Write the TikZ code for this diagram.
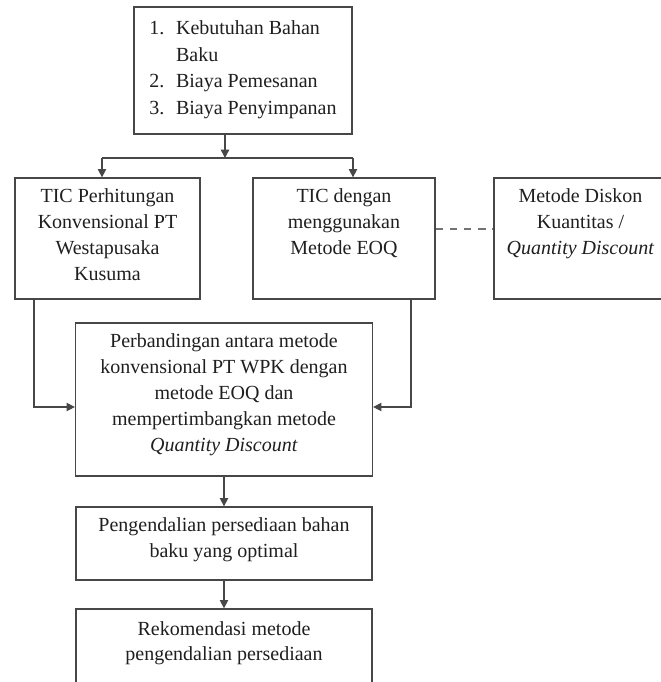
\documentclass[tikz,border=0pt]{standalone}
\usepackage{fontspec}
\setmainfont{Liberation Serif}
\usetikzlibrary{positioning,arrows.meta}

\tikzset{
	kotak/.style={draw=black!72, line width=0.75pt, inner sep=0pt},
	teks/.style={align=center, inner sep=0pt, text=black!88, font=\fontsize{12}{15.5}\selectfont},
	garis/.style={draw=black!72, line width=0.75pt},
	panah/.style={garis, -{Triangle[length=5pt,width=5pt]}},
	putus/.style={draw=black!55, line width=0.75pt, dash pattern=on 4.5pt off 4pt}
}

\begin{document}
\begin{tikzpicture}[x=0.6pt,y=-0.6pt]
		\useasboundingbox (0,0) rectangle (661,682);
		\clip (0,0) rectangle (661,682);
		% kotak
		\node[kotak,minimum width=130.8pt,minimum height=76.2pt] (input) at (243,70.5) {};
		\node[kotak,minimum width=111pt,minimum height=72.6pt] (tic) at (107.5,238.5) {};
		\node[kotak,minimum width=109.2pt,minimum height=72.6pt] (eoq) at (344,238.5) {};
		\node[kotak,minimum width=103.8pt,minimum height=72.6pt] (diskon) at (580.5,238.5) {};
		\node[kotak,minimum width=178.2pt,minimum height=91.8pt] (banding) at (224,399.5) {};
		\node[kotak,minimum width=177.6pt,minimum height=43.8pt] (kendali) at (224,543.5) {};
		\node[kotak,minimum width=177.6pt,minimum height=48.6pt] (rekom) at (224,649.5) {};
		% teks
		\node[teks,align=left,font=\fontsize{12}{16}\selectfont,below=8.3pt of input.north] (tInput) {\makebox[16pt][l]{1.}Kebutuhan Bahan\\ \hspace*{16pt}Baku\\ \makebox[16pt][l]{2.}Biaya Pemesanan\\ \makebox[16pt][l]{3.}Biaya Penyimpanan};
		\node[teks,below=6.8pt of tic.north] (tTic) {TIC Perhitungan\\ Konvensional PT\\ Westapusaka\\ Kusuma};
		\node[teks,below=6.8pt of eoq.north] (tEoq) {TIC dengan\\ menggunakan\\ Metode EOQ};
		\node[teks,below=6.8pt of diskon.north] (tDiskon) {Metode Diskon\\ Kuantitas /\\ \textit{Quantity Discount}};
		\node[teks,below=6.8pt of banding.north] (tBanding) {Perbandingan antara metode\\ konvensional PT WPK dengan\\ metode EOQ dan\\ mempertimbangkan metode\\ \textit{Quantity Discount}};
		\node[teks,below=6.8pt of kendali.north] (tKendali) {Pengendalian persediaan bahan\\ baku yang optimal};
		\node[teks,below=7.5pt of rekom.north] (tRekom) {Rekomendasi metode\\ pengendalian persediaan};
		% panah
		\coordinate (cabang) at (225,158);
		\coordinate (kiri) at (102,158);
		\coordinate (kanan) at (353,158);
		\coordinate (masukKiri) at (34,407);
		\coordinate (masukKanan) at (411,407);
		\draw[panah] (cabang |- input.south) -- (cabang);
		\draw[garis] (kiri) -- (kanan);
		\draw[panah] (kiri) -- (kiri |- tic.north);
		\draw[panah] (kanan) -- (kanan |- eoq.north);
		\draw[panah] (masukKiri |- tic.south) -- (masukKiri) -- (masukKiri -| banding.west);
		\draw[panah] (masukKanan |- eoq.south) -- (masukKanan) -- (masukKanan -| banding.east);
		\draw[panah] (banding.south) -- (kendali.north);
		\draw[panah] (kendali.south) -- (rekom.north);
		\draw[putus] ([yshift=5.7pt]eoq.east) -- ([yshift=5.7pt]diskon.west);
	\end{tikzpicture}
\end{document}
